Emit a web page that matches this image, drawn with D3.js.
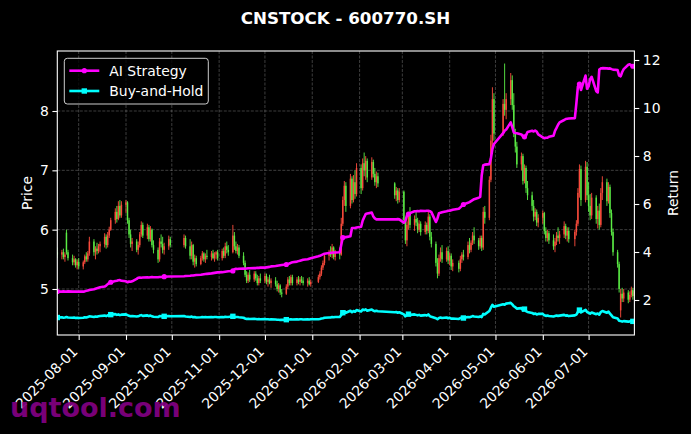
<!DOCTYPE html>
<html>
<head>
<meta charset="utf-8">
<script src="https://cdn.jsdelivr.net/npm/d3@7"></script>
<style>
  html, body { margin: 0; padding: 0; background: #000; }
  svg { display: block; font-family: "DejaVu Sans", sans-serif; }
</style>
</head>
<body>
<div id="chart"></div>
<script>
const chartTitle = "CNSTOCK - 600770.SH";
const watermark = "uqtool.com";
const firstDay = "2025-07-18";
const lastDay = "2026-07-31";
// exchange closed on these ranges (weekends are skipped anyway)
const holidays = [
  ["2025-10-01", "2025-10-08"], ["2026-01-01", "2026-01-02"], ["2026-02-16", "2026-02-23"],
  ["2026-04-06", "2026-04-06"], ["2026-05-01", "2026-05-05"], ["2026-06-19", "2026-06-19"]
];
const xTickLabels = ["2025-08-01", "2025-09-01", "2025-10-01", "2025-11-01", "2025-12-01", "2026-01-01",
  "2026-02-01", "2026-03-01", "2026-04-01", "2026-05-01", "2026-06-01", "2026-07-01"];
const priceTicks = [5, 6, 7, 8];
const returnTicks = [2, 4, 6, 8, 10, 12];
const seriesNames = ["AI Strategy", "Buy-and-Hold"];

// one row per trading day: [open, high, low, close]
const candles = [
  // 2025-07
  [5.62,5.70,5.52,5.58],[5.58,5.66,5.50,5.62],[5.62,5.68,5.50,5.54],[5.54,5.62,5.46,5.58],[5.95,6.00,5.58,5.62],
  [5.62,5.66,5.48,5.52],[5.52,5.58,5.40,5.45],[5.45,5.56,5.40,5.50],[5.50,5.52,5.36,5.40],[5.40,5.50,5.33,5.46],
  // 2025-08
  [5.46,5.52,5.34,5.38],[5.38,5.48,5.33,5.45],[5.45,5.58,5.42,5.55],[5.55,5.62,5.46,5.50],[5.50,5.64,5.46,5.60],
  [5.60,5.88,5.56,5.80],[5.80,5.84,5.56,5.62],[5.62,5.72,5.50,5.68],[5.68,5.78,5.58,5.64],[5.64,5.76,5.60,5.72],
  [5.72,5.80,5.62,5.76],[5.76,5.94,5.70,5.88],[5.88,5.92,5.68,5.74],[5.74,5.96,5.70,5.90],[5.90,6.05,5.86,6.00],
  [6.00,6.20,5.98,6.16],[6.16,6.36,6.10,6.30],[6.30,6.40,6.12,6.18],[6.18,6.48,6.16,6.40],[6.40,6.50,6.20,6.24],
  [6.24,6.48,6.20,6.42],
  // 2025-09
  [6.42,6.50,6.28,6.46],[6.46,6.48,6.10,6.16],[6.16,6.20,5.86,5.92],[5.92,6.00,5.70,5.76],[5.76,5.86,5.64,5.80],
  [5.80,5.84,5.62,5.66],[5.66,5.80,5.58,5.74],[5.74,5.96,5.70,5.92],[5.92,6.14,5.88,6.08],[6.08,6.12,5.86,5.90],
  [5.90,6.10,5.84,6.04],[6.04,6.08,5.80,5.84],[5.84,6.06,5.80,6.00],[6.00,6.02,5.70,5.74],[5.74,5.82,5.60,5.66],
  [5.66,5.70,5.44,5.50],[5.50,5.86,5.46,5.80],[5.80,5.92,5.70,5.76],[5.76,5.88,5.60,5.66],[5.66,5.78,5.58,5.72],
  [5.72,5.90,5.66,5.84],[5.84,5.88,5.70,5.74],
  // 2025-10
  [5.74,5.92,5.70,5.86],[5.86,5.90,5.68,5.72],[5.72,5.84,5.50,5.56],[5.56,5.80,5.50,5.74],[5.74,5.76,5.40,5.46],
  [5.46,5.58,5.36,5.52],[5.52,5.56,5.38,5.42],[5.42,5.56,5.40,5.52],[5.52,5.64,5.48,5.60],[5.60,5.62,5.46,5.50],
  [5.50,5.60,5.44,5.56],[5.56,5.66,5.50,5.54],[5.54,5.64,5.48,5.60],[5.60,5.66,5.50,5.52],[5.52,5.62,5.46,5.58],
  [5.58,5.64,5.50,5.62],[5.62,5.66,5.48,5.52],
  // 2025-11
  [5.52,5.68,5.48,5.64],[5.64,5.70,5.52,5.56],[5.56,5.78,5.52,5.72],[5.72,5.80,5.60,5.66],[5.66,5.74,5.56,5.62],
  [5.62,6.08,5.60,5.90],[5.90,5.96,5.66,5.72],[5.72,5.80,5.60,5.64],[5.64,5.76,5.58,5.70],[5.70,5.74,5.52,5.56],
  [5.56,5.62,5.40,5.44],[5.44,5.48,5.20,5.24],[5.24,5.30,5.10,5.14],[5.14,5.28,5.10,5.24],[5.24,5.32,5.12,5.16],
  [5.16,5.30,5.12,5.26],[5.26,5.30,5.14,5.18],[5.18,5.24,5.06,5.10],[5.10,5.22,5.06,5.18],[5.18,5.26,5.10,5.14],
  // 2025-12
  [5.14,5.26,5.10,5.22],[5.22,5.26,5.08,5.12],[5.12,5.20,5.04,5.16],[5.16,5.24,5.08,5.10],[5.10,5.18,5.02,5.14],
  [5.14,5.20,5.04,5.08],[5.08,5.14,4.96,5.00],[5.00,5.10,4.94,5.06],[5.06,5.08,4.90,4.94],[4.94,5.00,4.86,4.92],
  [4.92,5.08,4.90,5.04],[5.04,5.20,5.00,5.16],[5.16,5.22,5.06,5.10],[5.10,5.24,5.06,5.20],[5.20,5.24,5.06,5.10],
  [5.10,5.20,5.06,5.16],[5.16,5.22,5.08,5.12],[5.12,5.20,5.06,5.16],[5.16,5.22,5.10,5.14],[5.14,5.20,5.06,5.10],
  [5.10,5.18,5.04,5.14],[5.14,5.20,5.06,5.08],[5.08,5.16,5.04,5.12],
  // 2026-01
  [5.12,5.24,5.10,5.20],[5.20,5.30,5.16,5.26],[5.26,5.40,5.22,5.36],[5.36,5.48,5.32,5.44],[5.44,5.60,5.40,5.56],
  [5.56,5.66,5.48,5.60],[5.60,5.72,5.54,5.58],[5.58,5.76,5.52,5.70],[5.70,5.72,5.50,5.54],[5.54,5.66,5.48,5.62],
  [5.62,5.70,5.50,5.58],[5.58,6.20,5.56,6.10],[6.10,6.56,6.06,6.50],[6.50,6.82,6.40,6.74],[6.74,6.80,6.30,6.40],
  [6.40,6.94,6.36,6.86],[6.86,6.90,6.44,6.50],[6.50,6.92,6.46,6.80],[6.80,7.00,6.52,6.60],[6.60,7.12,6.56,7.04],
  // 2026-02
  [7.04,7.10,6.60,6.70],[6.70,7.20,6.66,7.12],[7.12,7.30,6.90,7.00],[7.00,7.24,6.84,7.16],[7.16,7.20,6.80,6.88],
  [6.88,7.22,6.84,7.14],[7.14,7.18,6.88,6.94],[6.94,7.04,6.74,6.80],[6.80,6.98,6.70,6.90],[6.90,6.96,6.72,6.78],
  [6.78,6.80,6.52,6.58],[6.58,6.72,6.48,6.66],[6.66,6.70,6.44,6.50],[6.50,6.70,6.46,6.64],
  // 2026-03
  [6.64,6.66,6.10,6.16],[6.16,6.20,5.76,5.82],[5.82,6.14,5.72,6.08],[6.08,6.30,6.00,6.24],[6.24,6.38,6.02,6.08],
  [6.08,6.24,5.98,6.18],[6.18,6.30,6.06,6.12],[6.12,6.20,5.94,6.00],[6.00,6.16,5.96,6.10],[6.10,6.14,5.90,5.96],
  [5.96,6.14,5.92,6.08],[6.08,6.12,5.92,5.98],[5.98,6.30,5.94,6.22],[6.22,6.26,5.82,5.88],[5.88,5.96,5.70,5.76],
  [5.76,5.80,5.38,5.44],[5.44,5.52,5.18,5.26],[5.26,5.58,5.22,5.52],[5.52,5.70,5.46,5.62],[5.62,5.74,5.44,5.50],
  [5.50,5.70,5.46,5.64],[5.64,5.72,5.42,5.48],
  // 2026-04
  [5.48,5.62,5.40,5.56],[5.56,5.60,5.32,5.38],[5.38,5.50,5.30,5.44],[5.44,5.48,5.28,5.34],[5.34,5.56,5.30,5.50],
  [5.50,5.62,5.44,5.58],[5.58,5.66,5.48,5.54],[5.54,5.80,5.50,5.74],[5.74,5.86,5.60,5.66],[5.66,5.82,5.62,5.78],
  [5.78,5.96,5.74,5.90],[5.90,6.04,5.76,5.82],[5.82,5.86,5.66,5.72],[5.72,5.90,5.68,5.86],[5.86,5.90,5.64,5.70],
  [5.70,6.38,5.66,6.30],[6.30,6.40,6.10,6.20],[6.20,6.90,6.16,6.84],[6.84,7.60,6.80,7.50],[7.50,8.40,7.40,8.20],
  [8.20,8.30,7.50,7.62],
  // 2026-05
  [7.62,8.20,7.58,8.12],[8.12,8.80,7.92,8.02],[8.02,8.30,7.86,8.20],[8.20,8.64,8.10,8.52],[8.52,8.60,8.02,8.10],
  [8.10,8.30,7.56,7.62],[7.62,7.70,7.30,7.40],[7.40,7.48,7.04,7.10],[7.10,7.30,7.00,7.24],[7.24,7.28,6.76,6.82],
  [6.82,7.10,6.78,7.04],[7.04,7.08,6.62,6.70],[6.70,6.82,6.50,6.58],[6.58,6.64,6.32,6.40],[6.40,6.50,6.14,6.22],
  [6.22,6.36,6.16,6.30],[6.30,6.34,6.06,6.12],[6.12,6.26,6.04,6.20],
  // 2026-06
  [6.20,6.32,6.10,6.28],[6.28,6.30,5.92,5.98],[5.98,6.04,5.80,5.86],[5.86,6.00,5.80,5.94],[5.94,5.98,5.76,5.82],
  [5.82,5.92,5.66,5.72],[5.72,5.86,5.62,5.80],[5.80,5.96,5.74,5.90],[5.90,6.04,5.80,5.86],[5.86,5.98,5.76,5.92],
  [5.92,6.14,5.86,6.06],[6.06,6.10,5.84,5.90],[5.90,6.04,5.80,5.98],[5.98,6.04,5.78,5.84],[5.84,6.00,5.72,5.96],
  [5.96,6.16,5.90,6.10],[6.10,6.70,6.06,6.62],[6.62,7.10,6.54,7.02],[7.02,7.08,6.40,6.50],[6.50,7.16,6.46,7.06],
  [7.06,7.14,6.50,6.58],
  // 2026-07
  [6.58,6.80,6.30,6.40],[6.40,6.60,6.16,6.24],[6.24,6.62,6.18,6.54],[6.54,6.58,6.10,6.18],[6.18,6.40,6.02,6.32],
  [6.32,6.44,6.00,6.08],[6.08,6.70,6.04,6.62],[6.62,6.90,6.50,6.80],[6.80,6.86,6.40,6.48],[6.48,6.80,6.44,6.72],
  [6.72,6.76,6.20,6.28],[6.28,6.34,5.90,5.96],[5.96,6.02,5.56,5.62],[5.62,5.66,5.36,5.42],[5.42,5.46,4.94,5.00],
  [4.64,5.00,4.52,4.92],[4.92,5.02,4.78,4.84],[4.84,5.00,4.78,4.94],[4.94,4.98,4.76,4.82],[4.82,4.96,4.78,4.90],
  [4.90,5.04,4.86,4.98],[4.98,5.02,4.82,4.88],[4.88,5.02,4.84,4.96]
];

const aiStrategy = [
  2.35,2.35,2.36,2.35,2.35,2.36,2.35,2.35,2.35,2.35,
  2.35,2.35,2.36,2.38,2.40,2.42,2.45,2.47,2.49,2.51,2.53,2.56,2.60,2.66,2.70,2.74,2.79,2.80,2.82,2.83,2.80,
  2.78,2.74,2.77,2.76,2.78,2.88,2.93,2.94,2.93,2.94,2.95,2.94,2.95,2.96,2.95,2.95,2.96,2.96,2.96,2.97,2.98,2.98,
  2.99,3.00,3.01,3.02,3.02,3.03,3.04,3.05,3.06,3.07,3.08,3.09,3.11,3.12,3.13,3.14,3.15,
  3.16,3.17,3.18,3.19,3.20,3.21,3.28,3.30,3.29,3.30,3.31,3.30,3.31,3.32,3.32,3.33,3.33,3.34,3.34,3.35,
  3.35,3.36,3.37,3.38,3.40,3.42,3.43,3.44,3.45,3.46,3.48,3.50,3.52,3.55,3.57,3.60,3.62,3.64,3.66,3.68,3.70,3.72,3.74,
  3.82,3.84,3.87,3.90,3.93,3.96,3.97,3.97,3.98,3.98,3.99,4.30,4.60,4.62,4.62,4.66,5.00,5.00,5.00,5.02,
  5.05,5.30,5.45,5.58,5.60,5.64,5.48,5.40,5.36,5.36,5.36,5.36,5.37,5.36,
  5.22,5.30,5.52,5.58,5.62,5.70,5.70,5.71,5.70,5.72,5.71,5.72,5.72,5.70,5.66,5.25,5.40,5.62,5.64,5.66,5.70,5.72,
  5.72,5.74,5.76,5.80,5.86,5.92,5.98,6.05,6.08,6.12,6.16,6.20,6.26,6.30,7.20,7.62,7.64,7.66,7.90,8.30,8.50,
  8.95,9.05,9.10,9.40,9.20,8.98,8.96,8.95,8.90,8.82,8.80,8.86,9.00,9.05,9.02,9.06,9.02,8.90,
  8.78,8.74,8.76,8.76,8.80,8.84,9.05,9.17,9.30,9.40,9.50,9.54,9.55,9.56,9.58,10.20,10.90,11.00,10.75,11.35,10.80,
  10.90,11.20,11.30,10.70,10.65,11.60,11.65,11.66,11.65,11.64,11.65,11.62,11.60,11.58,11.35,11.32,11.50,11.62,11.80,11.82,11.78,11.74,11.72
];

const buyAndHold = [
  1.27,1.28,1.26,1.27,1.29,1.27,1.26,1.27,1.25,1.26,
  1.25,1.26,1.28,1.27,1.29,1.32,1.29,1.31,1.30,1.32,1.33,1.35,1.33,1.36,1.37,1.39,1.41,1.38,1.40,1.37,1.39,
  1.40,1.37,1.34,1.32,1.33,1.31,1.32,1.35,1.37,1.34,1.36,1.33,1.35,1.32,1.30,1.29,1.33,1.32,1.31,1.32,1.33,1.32,
  1.33,1.31,1.29,1.31,1.28,1.29,1.27,1.28,1.29,1.28,1.29,1.28,1.29,1.28,1.29,1.29,1.28,
  1.29,1.28,1.30,1.29,1.29,1.32,1.30,1.29,1.29,1.28,1.26,1.23,1.21,1.22,1.21,1.22,1.21,1.20,1.21,1.20,
  1.21,1.20,1.20,1.19,1.20,1.19,1.18,1.18,1.17,1.17,1.18,1.20,1.19,1.20,1.19,1.20,1.19,1.20,1.20,1.19,1.20,1.19,1.20,
  1.20,1.21,1.23,1.24,1.26,1.27,1.27,1.29,1.28,1.29,1.29,1.38,1.47,1.53,1.47,1.55,1.49,1.54,1.51,1.58,
  1.52,1.60,1.58,1.61,1.55,1.60,1.56,1.53,1.55,1.53,1.49,1.50,1.47,1.49,
  1.40,1.32,1.38,1.41,1.38,1.40,1.38,1.36,1.38,1.35,1.37,1.35,1.40,1.33,1.30,1.24,1.20,1.25,1.27,1.25,1.27,1.24,
  1.26,1.22,1.23,1.21,1.25,1.26,1.25,1.29,1.28,1.30,1.33,1.31,1.29,1.32,1.29,1.42,1.40,1.54,1.68,1.80,1.72,
  1.82,1.80,1.85,1.88,1.82,1.74,1.70,1.64,1.66,1.58,1.62,1.54,1.50,1.46,1.42,1.44,1.40,1.42,
  1.42,1.36,1.34,1.35,1.33,1.31,1.33,1.35,1.34,1.35,1.38,1.35,1.36,1.33,1.36,1.39,1.50,1.58,1.48,1.59,1.50,
  1.47,1.43,1.48,1.41,1.44,1.39,1.50,1.54,1.47,1.52,1.43,1.36,1.28,1.23,1.14,1.12,1.10,1.12,1.10,1.11,1.13,1.11,1.12
];

const width = 691;
const height = 434;
const margin = { top: 51, right: 56.6, bottom: 99, left: 57.3 };
const innerWidth = width - margin.left - margin.right;
const innerHeight = height - margin.top - margin.bottom;
const upColor = "#ff4d3d";
const downColor = "#5cf046";
const markEvery = 25;

const parseDay = d3.timeParse("%Y-%m-%d");
const closed = new Set();
holidays.forEach(([a, b]) => {
  d3.timeDay.range(parseDay(a), d3.timeDay.offset(parseDay(b), 1)).forEach(d => closed.add(+d));
});
const tradingDays = d3.timeDay.range(parseDay(firstDay), d3.timeDay.offset(parseDay(lastDay), 1))
  .filter(d => d.getDay() !== 0 && d.getDay() !== 6 && !closed.has(+d));

const n = Math.min(tradingDays.length, candles.length);
const days = tradingDays.slice(0, n);

const svg = d3.select("#chart")
  .append("svg")
  .attr("width", width)
  .attr("height", height)
  .style("background", "#000")
  .style("color", "#fff");

svg.append("text")
  .attr("x", width / 2)
  .attr("y", 24)
  .attr("text-anchor", "middle")
  .attr("fill", "#fff")
  .attr("font-size", 16.7)
  .attr("font-weight", "bold")
  .text(chartTitle);

const g = svg.append("g")
  .attr("transform", `translate(${margin.left}, ${margin.top})`);

const xScale = d3.scaleTime()
  .domain([days[0], days[n - 1]])
  .range([0, innerWidth]);

const yPrice = d3.scaleLinear()
  .domain([4.2247, 9.0113])
  .range([innerHeight, 0]);

const yReturn = d3.scaleLinear()
  .domain([0.5417, 12.375])
  .range([innerHeight, 0]);

g.append("clipPath").attr("id", "plot-clip")
  .append("rect").attr("width", innerWidth).attr("height", innerHeight);

// grid
const grid = g.append("g")
  .attr("stroke", "#fff")
  .attr("stroke-opacity", 0.3)
  .attr("stroke-width", 0.8)
  .attr("stroke-dasharray", "3,1.5");
grid.selectAll(".hgrid")
  .data(priceTicks)
  .join("line")
  .attr("x1", 0).attr("x2", innerWidth)
  .attr("y1", d => yPrice(d)).attr("y2", d => yPrice(d));
grid.selectAll(".vgrid")
  .data(xTickLabels.map(parseDay))
  .join("line")
  .attr("x1", d => xScale(d)).attr("x2", d => xScale(d))
  .attr("y1", 0).attr("y2", innerHeight);

// candlesticks
const candleG = g.append("g").attr("clip-path", "url(#plot-clip)");
const rows = candles.slice(0, n).map((c, i) => ({ date: days[i], open: c[0], high: c[1], low: c[2], close: c[3] }));
const colorOf = d => d.close >= d.open ? upColor : downColor;

candleG.selectAll(".wick")
  .data(rows)
  .join("line")
  .attr("x1", d => xScale(d.date)).attr("x2", d => xScale(d.date))
  .attr("y1", d => yPrice(d.high)).attr("y2", d => yPrice(d.low))
  .attr("stroke", colorOf)
  .attr("stroke-width", 1)
  .attr("stroke-opacity", 0.9);

candleG.selectAll(".body")
  .data(rows)
  .join("rect")
  .attr("x", d => xScale(d.date) - 0.75)
  .attr("width", 1.5)
  .attr("y", d => yPrice(Math.max(d.open, d.close)))
  .attr("height", d => Math.max(0.8, Math.abs(yPrice(d.open) - yPrice(d.close))))
  .attr("fill", colorOf)
  .attr("fill-opacity", 0.9);

// return lines
const lineG = g.append("g").attr("clip-path", "url(#plot-clip)");
const line = d3.line()
  .x(d => xScale(d.date))
  .y(d => yReturn(d.value));

const series = [
  { name: seriesNames[0], values: aiStrategy, color: "#ff00ff", marker: "circle" },
  { name: seriesNames[1], values: buyAndHold, color: "#00ffff", marker: "square" }
];

series.forEach(s => {
  const pts = s.values.slice(0, n).map((v, i) => ({ date: days[i], value: v }));
  lineG.append("path")
    .datum(pts)
    .attr("fill", "none")
    .attr("stroke", s.color)
    .attr("stroke-width", 2.6)
    .attr("stroke-linejoin", "round")
    .attr("stroke-linecap", "round")
    .attr("d", line);
  const marks = pts.filter((d, i) => i % markEvery === 0);
  if (s.marker === "circle") {
    lineG.selectAll(null).data(marks).join("circle")
      .attr("cx", d => xScale(d.date)).attr("cy", d => yReturn(d.value))
      .attr("r", 2.6).attr("fill", s.color);
  } else {
    lineG.selectAll(null).data(marks).join("rect")
      .attr("x", d => xScale(d.date) - 2.7).attr("y", d => yReturn(d.value) - 2.7)
      .attr("width", 5.4).attr("height", 5.4).attr("fill", s.color);
  }
});

// frame
g.append("rect")
  .attr("width", innerWidth)
  .attr("height", innerHeight)
  .attr("fill", "none")
  .attr("stroke", "#fff")
  .attr("stroke-width", 1.1);

// axes
const fontSize = 13.9;
const xAxis = d3.axisBottom(xScale)
  .tickValues(xTickLabels.map(parseDay))
  .tickFormat(d3.timeFormat("%Y-%m-%d"))
  .tickSize(4.9)
  .tickPadding(3.5);

const xAxisG = g.append("g")
  .attr("transform", `translate(0, ${innerHeight})`)
  .call(xAxis);
xAxisG.selectAll("text")
  .attr("x", 0).attr("y", 0).attr("dy", "0.35em")
  .attr("text-anchor", "end")
  .attr("transform", "translate(-4, 14) rotate(-45)");

const yAxisG = g.append("g")
  .call(d3.axisLeft(yPrice).tickValues(priceTicks).tickFormat(d3.format("d")).tickSize(4.9).tickPadding(3.5));

const yAxisRightG = g.append("g")
  .attr("transform", `translate(${innerWidth}, 0)`)
  .call(d3.axisRight(yReturn).tickValues(returnTicks).tickFormat(d3.format("d")).tickSize(4.9).tickPadding(3.5));

[xAxisG, yAxisG, yAxisRightG].forEach(a => {
  a.attr("font-family", "DejaVu Sans, sans-serif").attr("font-size", fontSize);
  a.select(".domain").remove();
  a.selectAll("line").attr("stroke", "#fff").attr("stroke-width", 1.1);
  a.selectAll("text").attr("fill", "#fff");
});

svg.append("text")
  .attr("transform", `translate(27, ${margin.top + innerHeight / 2}) rotate(-90)`)
  .attr("dy", "0.35em")
  .attr("text-anchor", "middle")
  .attr("fill", "#fff")
  .attr("font-size", fontSize)
  .text("Price");

svg.append("text")
  .attr("transform", `translate(673.5, ${margin.top + innerHeight / 2}) rotate(-90)`)
  .attr("dy", "0.35em")
  .attr("text-anchor", "middle")
  .attr("fill", "#fff")
  .attr("font-size", fontSize)
  .text("Return");

// legend
const legend = g.append("g").attr("transform", "translate(7, 7.3)");
legend.append("rect")
  .attr("width", 144)
  .attr("height", 45.7)
  .attr("rx", 3)
  .attr("fill", "#000")
  .attr("fill-opacity", 0.8)
  .attr("stroke", "#ccc")
  .attr("stroke-width", 1);

series.forEach((s, i) => {
  const yy = 12.4 + i * 20.3;
  const item = legend.append("g").attr("transform", `translate(0, ${yy})`);
  item.append("line")
    .attr("x1", 5).attr("x2", 35)
    .attr("stroke", s.color).attr("stroke-width", 2.6);
  if (s.marker === "circle") {
    item.append("circle").attr("cx", 20).attr("r", 2.6).attr("fill", s.color);
  } else {
    item.append("rect").attr("x", 17.3).attr("y", -2.7).attr("width", 5.4).attr("height", 5.4).attr("fill", s.color);
  }
  item.append("text")
    .attr("x", 45)
    .attr("dy", "0.35em")
    .attr("fill", "#fff")
    .attr("font-size", fontSize)
    .text(s.name);
});

// watermark
svg.append("text")
  .attr("x", 10)
  .attr("y", 417)
  .attr("fill", "#800080")
  .attr("fill-opacity", 0.95)
  .attr("font-size", 27)
  .attr("font-weight", "bold")
  .text(watermark);
</script>
</body>
</html>
